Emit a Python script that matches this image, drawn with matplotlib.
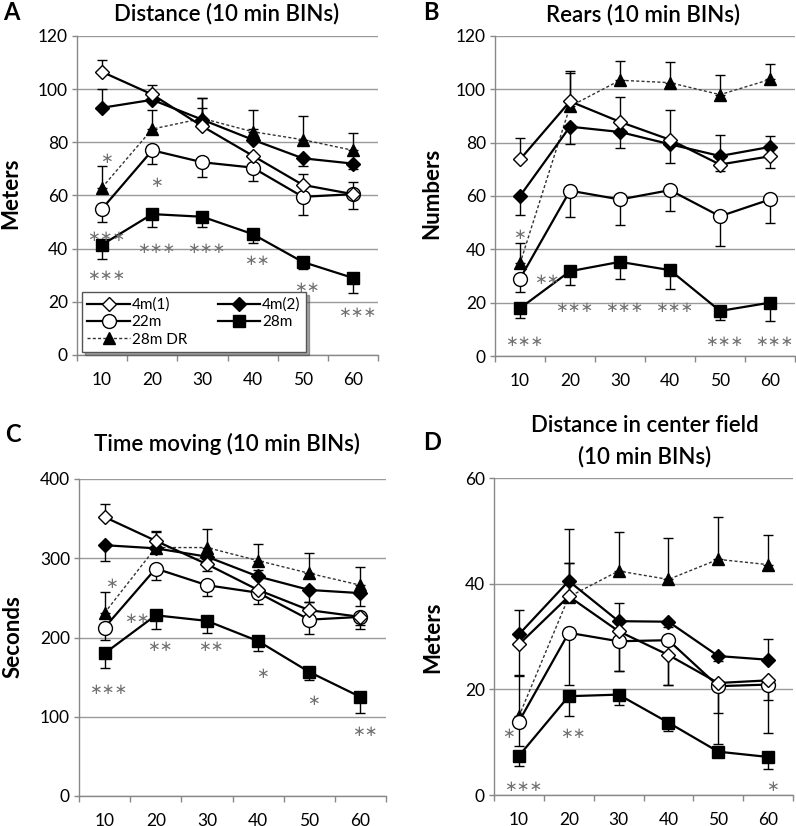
import numpy as np
import matplotlib
matplotlib.use("Agg")
import matplotlib.pyplot as plt
from matplotlib.lines import Line2D

plt.rcParams['font.family'] = ['Lato', 'DejaVu Sans']

bins = ["10", "20", "30", "40", "50", "60"]
groups = ["4m(1)", "4m(2)", "22m", "28m", "28m DR"]

# means per group, signed error (+ = bar drawn up, - = bar drawn down)
dist_mean = {
    "4m(1)": [106.5, 98, 86, 75, 64, 60.5],
    "4m(2)": [93, 96, 88.5, 81, 74, 72],
    "22m": [55, 77, 72.5, 70.5, 59.5, 60.5],
    "28m": [41.5, 53, 52, 45.5, 35, 29],
    "28m DR": [63, 85, 89, 84, 81, 77],
}
dist_err = {
    "4m(1)": [4.5, 3.5, 7, -3, 4, 4.5],
    "4m(2)": [7, 2, 8, 4, -3, -2],
    "22m": [-5, -5, -5.5, -5, -7, -5.5],
    "28m": [-5.5, -5, -4, -3.5, -2.5, -5.5],
    "28m DR": [8, 7, 7.5, 8, 9, 6.5],
}
dist_stars = [("∗", 0, 74), ("∗", 1, 65), ("∗∗∗", 0, 44.5), ("∗∗∗", 1, 40), ("∗∗∗", 2, 40),
              ("∗∗", 3, 35.5), ("∗∗∗", 0, 30), ("∗∗", 4, 25.5), ("∗∗∗", 5, 16)]

rear_mean = {
    "4m(1)": [73.7, 95.5, 87.8, 81.1, 71.8, 74.9],
    "4m(2)": [60, 86, 84, 79.4, 75, 78.4],
    "22m": [29, 62, 58.7, 62.2, 52.4, 58.7],
    "28m": [17.9, 31.8, 35.3, 32.2, 16.9, 20],
    "28m DR": [34.7, 93.6, 103.4, 102.5, 98, 103.7],
}
rear_err = {
    "4m(1)": [8, 11.5, 9.5, 11, -2.3, -4.5],
    "4m(2)": [-7, -6.5, -6, -7, 8, 4],
    "22m": [-5, -10, -9.7, -7.8, -11.2, -8.7],
    "28m": [-3.5, -5, -6.3, -6.9, -3.4, -6.8],
    "28m DR": [7.7, 12.5, 7.2, 7.7, 7.5, 5.7],
}
rear_stars = [("∗", -0.1, 45.5), ("∗∗", 0.45, 28.5), ("∗∗∗", 1, 18.2), ("∗∗∗", 2, 18.2),
              ("∗∗∗", 3, 18.2), ("∗∗∗", 0, 5.5), ("∗∗∗", 4, 5.5), ("∗∗∗", 5, 5.5)]

time_mean = {
    "4m(1)": [352, 322, 292.5, 260, 234.5, 226],
    "4m(2)": [316.5, 312.5, 302, 277, 260, 256],
    "22m": [212.5, 287, 266, 256.5, 222.5, 226],
    "28m": [180, 228, 221, 195.5, 156.5, 125],
    "28m DR": [231, 313.5, 313.5, 297, 281, 266],
}
time_err = {
    "4m(1)": [16, 12, -8, -8, 10, -10],
    "4m(2)": [-20, 8, -12, 8, -15, -16],
    "22m": [-16, -14, -14, -14, -18.5, -15],
    "28m": [-18, -17, -15, -12, -9.5, -20],
    "28m DR": [26.5, 20, 24, 21.5, 26, 23],
}
time_stars = [("∗", 0.05, 268), ("∗∗", 0.55, 224), ("∗∗", 1, 189), ("∗∗", 2, 189),
              ("∗∗∗", 0, 135), ("∗", 3, 155), ("∗", 4, 121), ("∗∗", 5, 82)]

center_mean = {
    "4m(1)": [28.5, 37.6, 31, 26.5, 21.2, 21.7],
    "4m(2)": [30.4, 40.5, 32.9, 32.8, 26.3, 25.6],
    "22m": [13.9, 30.7, 29.1, 29.3, 20.6, 20.9],
    "28m": [7.4, 18.7, 19, 13.7, 8.2, 7.2],
    "28m DR": [14.9, 37.5, 42.4, 40.8, 44.6, 43.6],
}
center_err = {
    "4m(1)": [-6, 6.4, -7.5, -5.6, -5.7, -3.8],
    "4m(2)": [4.7, 9.9, 3.5, -1, -1, 4],
    "22m": [-4.6, -9.9, -5.6, -8.5, -11, -9.1],
    "28m": [-2, -3.7, -2, -1.5, -0.6, -2.3],
    "28m DR": [7.8, 6.5, 7.4, 7.9, 8, 5.7],
}
center_stars = [("∗", -0.3, 11.6), ("∗∗", 1, 11.6), ("∗∗∗", 0, 1.6), ("∗", 5, 1.6)]

styles = {
    "4m(1)": dict(marker="D", ms=7.5, mfc="white", mec="black", ls="-", lw=1.6, color="black"),
    "4m(2)": dict(marker="D", ms=7.5, mfc="black", mec="black", ls="-", lw=1.6, color="black"),
    "22m": dict(marker="o", ms=10, mfc="white", mec="black", ls="-", lw=1.6, color="black"),
    "28m": dict(marker="s", ms=8, mfc="black", mec="black", ls="-", lw=1.6, color="black"),
    "28m DR": dict(marker="^", ms=8, mfc="black", mec="black", ls=(0, (2.2, 1.6)), lw=1.0, color="#333333"),
}

W, H = 796, 826
fig = plt.figure(figsize=(W / 100, H / 100), dpi=100)


def px_axes(l, t, r, b):
    return fig.add_axes([l / W, 1 - b / H, (r - l) / W, (b - t) / H])


def draw_panel(ax, means, errs, ymax, ystep, stars):
    x = np.arange(len(bins))
    for g in ["28m DR", "22m", "28m", "4m(2)", "4m(1)"]:
        m = np.array(means[g], dtype=float)
        e = np.array(errs[g], dtype=float)
        lo = np.where(e < 0, -e, 0)
        hi = np.where(e > 0, e, 0)
        ax.errorbar(x, m, yerr=[lo, hi], fmt="none", ecolor="black", elinewidth=1.0,
                    capsize=3.5, capthick=1.0, zorder=2)
        ax.plot(x, m, zorder=3, **styles[g])
    for s, xi, yi in stars:
        ax.text(xi + 0.08, yi, s, ha="center", va="center", fontsize=11,
                color="#707070", family="DejaVu Sans", zorder=4)
    ax.set_xlim(-0.5, len(bins) - 0.5)
    ax.set_ylim(0, ymax)
    ax.set_yticks(np.arange(0, ymax + 0.1, ystep))
    ax.yaxis.grid(True, color="#9a9a9a", lw=1.0)
    ax.set_axisbelow(True)
    ax.set_xticks(x)
    ax.set_xticklabels(bins)
    ax.set_xticks(np.arange(-0.5, len(bins)), minor=True)
    ax.tick_params(axis="x", which="major", length=0, pad=12, labelsize=12.5)
    ax.tick_params(axis="x", which="minor", length=4.5, color="#888888", width=1.0)
    ax.tick_params(axis="y", length=3.5, color="#888888", width=1.0, pad=3, labelsize=12.5)
    for sp in ["top", "right"]:
        ax.spines[sp].set_visible(False)
    for sp in ["left", "bottom"]:
        ax.spines[sp].set_color("#888888")
        ax.spines[sp].set_linewidth(1.0)


axA = px_axes(77, 36, 378, 355)
draw_panel(axA, dist_mean, dist_err, 120, 20, dist_stars)
axB = px_axes(495, 36, 795, 356)
draw_panel(axB, rear_mean, rear_err, 120, 20, rear_stars)
axC = px_axes(79, 479, 386, 796)
draw_panel(axC, time_mean, time_err, 400, 100, time_stars)
axD = px_axes(494, 478, 793, 795)
draw_panel(axD, center_mean, center_err, 60, 20, center_stars)

# legend in panel A, row-major order
handles = {g: Line2D([], [], **styles[g]) for g in groups}
order = ["4m(1)", "22m", "28m DR", "4m(2)", "28m"]
leg = axA.legend([handles[g] for g in order], order, ncol=2, loc="lower left",
                 bbox_to_anchor=(5 / 301, 3 / 319), frameon=True, fancybox=False,
                 shadow=True, fontsize=11, handlelength=2.8, handletextpad=0.1,
                 columnspacing=2.0, labelspacing=0.22, borderpad=0.35, borderaxespad=0)
leg.get_frame().set_edgecolor("#555555")
leg.get_frame().set_linewidth(1.0)
leg.set_zorder(5)


def ftext(xp, yp, s, **kw):
    fig.text(xp / W, 1 - yp / H, s, ha="center", va="center", **kw)


ftext(227, 14, "Distance (10 min BINs)", fontsize=16, fontweight="semibold")
ftext(643, 15, "Rears (10 min BINs)", fontsize=16, fontweight="semibold")
ftext(227, 444, "Time moving (10 min BINs)", fontsize=16, fontweight="semibold")
ftext(645, 425, "Distance in center field", fontsize=16, fontweight="semibold")
ftext(645, 457, "(10 min BINs)", fontsize=16, fontweight="semibold")

ftext(11, 13, "A", fontsize=17, fontweight="bold")
ftext(431, 13, "B", fontsize=17, fontweight="bold")
ftext(13, 434, "C", fontsize=17, fontweight="bold")
ftext(432, 442, "D", fontsize=17, fontweight="bold")

ftext(11, 193, "Meters", fontsize=16, fontweight="bold", rotation=90)
ftext(432, 193, "Numbers", fontsize=16, fontweight="bold", rotation=90)
ftext(13, 637, "Seconds", fontsize=16, fontweight="bold", rotation=90)
ftext(433, 637, "Meters", fontsize=16, fontweight="bold", rotation=90)

fig.savefig("out.png", dpi=100)
